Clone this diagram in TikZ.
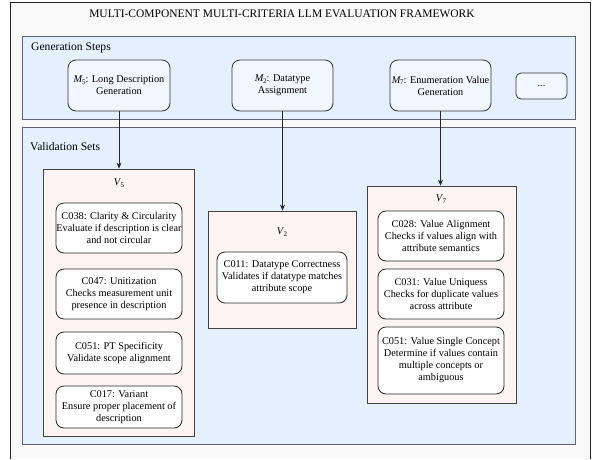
\documentclass[tikz,border=0pt]{standalone}
\usepackage{fontspec}
\setmainfont{Liberation Serif}
\usetikzlibrary{arrows.meta}
\definecolor{outerbg}{RGB}{249,249,249}
\definecolor{panelfill}{RGB}{228,240,253}
\definecolor{panelborder}{RGB}{95,100,110}
\definecolor{vfill}{RGB}{255,244,244}
\definecolor{mfill}{RGB}{240,247,255}
\newcommand\boxfont{\fontsize{10.3}{12}\selectfont}
\newcommand\vsub[2]{\textit{#1}\kern-0.6pt\raisebox{-0.3ex}{\fontsize{7}{8}\selectfont #2}}
\tikzset{
  panel/.style={draw=panelborder, fill=panelfill, line width=0.9pt, inner sep=0pt},
  vset/.style={draw=black!75, fill=vfill, line width=0.8pt, inner sep=0pt},
  mbox/.style={draw=black!80, fill=mfill, rounded corners=8pt, line width=0.8pt, align=center, font=\boxfont, inner sep=0pt},
  cbox/.style={draw=black!85, fill=white, rounded corners=8pt, line width=0.8pt, align=center, font=\boxfont, inner sep=0pt},
  lbl/.style={inner sep=0pt, font=\boxfont},
  sect/.style={inner sep=0pt, anchor=west, font=\fontsize{11.6}{14}\selectfont},
  arr/.style={-{Stealth[length=6pt,width=5pt]}, line width=0.7pt, black!85}
}
\begin{document}
\begin{tikzpicture}[x=1pt,y=-1pt]
\useasboundingbox (0,0) rectangle (592,459);
% outer frame
\fill[outerbg] (10,2) rectangle (590,459);
\draw[line width=0.8pt, black!85] (10,459) -- (10,2) -- (590,2) -- (590,459);
\node[inner sep=0pt, font=\fontsize{11.5}{13}\selectfont] (title) at (282,14) {MULTI-COMPONENT MULTI-CRITERIA LLM EVALUATION FRAMEWORK};
% panels
\node[panel, minimum width=553pt, minimum height=83pt] (gen) at (298.5,77.5) {};
\node[sect] (genlbl) at (31,48) {Generation Steps};
\node[panel, minimum width=553pt, minimum height=317pt] (val) at (298.5,285.5) {};
\node[sect] (vallbl) at (30,147) {Validation Sets};
% generation boxes
\node[mbox, minimum width=102pt, minimum height=51pt] (m5) at (119,85.5) {\vsub{M}{5}: Long Description\\Generation};
\node[mbox, minimum width=101pt, minimum height=51pt] (m2) at (282.5,85.5) {\vsub{M}{2}: Datatype\\Assignment};
\node[mbox, minimum width=101pt, minimum height=51pt] (m7) at (440.5,85.5) {\vsub{M}{7}: Enumeration Value\\Generation};
\node[mbox, rounded corners=5pt, minimum width=51pt, minimum height=26pt] (dots) at (541.5,86) {...};
% validation sets
\node[vset, minimum width=151pt, minimum height=267pt] (v5) at (118.5,302.5) {};
\node[vset, minimum width=148pt, minimum height=117pt] (v2) at (282,269.5) {};
\node[vset, minimum width=149pt, minimum height=217pt] (v7) at (441.5,294.5) {};
\node[lbl] (v5l) at (119,183) {\vsub{V}{5}};
\node[lbl] (v2l) at (282,232) {\vsub{V}{2}};
\node[lbl] (v7l) at (441,199) {\vsub{V}{7}};
% criteria
\node[cbox, minimum width=126pt, minimum height=50pt] (c038) at (119,228) {C038: Clarity \& Circularity\\Evaluate if description is clear\\and not circular};
\node[cbox, minimum width=126pt, minimum height=50pt] (c047) at (119,294) {C047: Unitization\\Checks measurement unit\\presence in description};
\node[cbox, minimum width=126pt, minimum height=42pt] (c051) at (119,353) {C051: PT Specificity\\Validate scope alignment};
\node[cbox, minimum width=126pt, minimum height=42pt] (c017) at (119,407) {C017: Variant\\Ensure proper placement of\\description};
\node[cbox, minimum width=130pt, minimum height=51pt] (c011) at (282,277.5) {C011: Datatype Correctness\\Validates if datatype matches\\attribute scope};
\node[cbox, minimum width=126pt, minimum height=50pt] (c028) at (441,236) {C028: Value Alignment\\Checks if values align with\\attribute semantics};
\node[cbox, minimum width=126pt, minimum height=50pt] (c031) at (441,294) {C031: Value Uniquess\\Checks for duplicate values\\across attribute};
\node[cbox, minimum width=126pt, minimum height=67pt] (c051v) at (441,360.5) {C051: Value Single Concept\\Determine if values contain\\multiple concepts or\\ambiguous};
% arrows
\draw[arr] (m5.south) -- (m5.south |- v5.north);
\draw[arr] (m2.south) -- (m2.south |- v2.north);
\draw[arr] (m7.south) -- (m7.south |- v7.north);
\end{tikzpicture}
\end{document}
